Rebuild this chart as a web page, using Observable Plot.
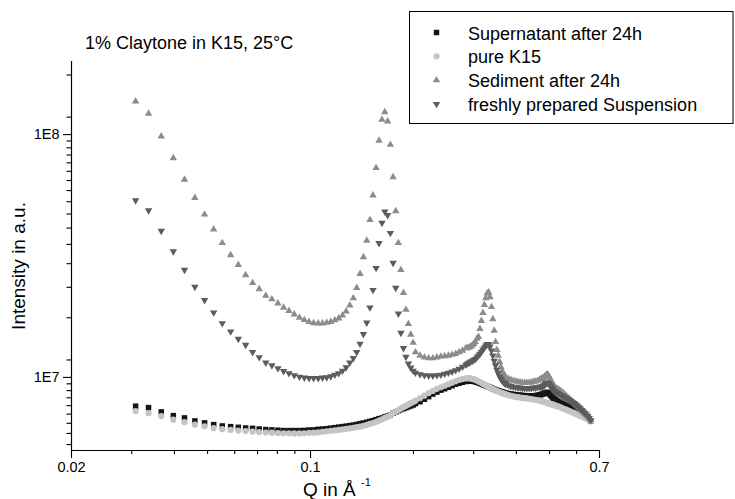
<!DOCTYPE html>
<html><head><meta charset="utf-8">
<script src="https://cdn.jsdelivr.net/npm/d3@7"></script>
<script src="https://cdn.jsdelivr.net/npm/@observablehq/plot@0.6"></script>
<style>html,body{margin:0;padding:0;background:#fff;}#chart{width:735px;height:499px;overflow:hidden;}</style>
</head><body><div id="chart"></div>
<script>
// Intensities are given in units of 1e6 a.u.
const UNIT = 1e6;
const q = [
0.0308,0.0336,0.0366,0.0397,0.0428,0.0459,0.0490,0.0521,0.0552,0.0584,0.0615,0.0646,0.0677,0.0708,0.0740,
0.0771,0.0803,0.0834,0.0865,0.0896,0.0928,0.0959,0.0990,0.1021,0.1053,0.1084,0.1115,0.1146,0.1178,0.1209,0.1240,0.1271,0.1303,0.1334,0.1365,0.1396,
0.1428,0.1460,0.1492,0.1523,0.1555,0.1586,0.1618,0.1649,0.1681,0.1712,0.1744,0.1775,0.1807,0.1838,0.1870,0.1901,0.1933,0.1964,0.1996,0.2027,
0.2090,0.2153,0.2216,0.2279,0.2342,0.2405,0.2468,0.2531,0.2594,0.2657,0.2720,0.2783,0.2846,
0.2878,0.2909,0.2941,0.2972,0.3004,0.3035,0.3067,0.3098,0.3130,0.3161,0.3193,0.3224,0.3256,0.3287,0.3319,0.3350,0.3382,0.3413,0.3445,0.3476,0.3508,0.3539,0.3571,0.3602,0.3634,0.3665,0.3697,0.3728,
0.3791,0.3854,0.3917,0.3980,0.4043,0.4106,0.4169,0.4232,0.4295,0.4358,0.4421,0.4484,0.4547,0.4610,0.4673,
0.4705,0.4736,0.4768,0.4799,0.4831,0.4862,0.4894,0.4925,0.4957,0.4988,0.5020,0.5051,0.5083,0.5114,0.5146,0.5177,0.5209,
0.5272,0.5335,0.5398,0.5461,0.5524,0.5587,0.5650,0.5713,0.5776,0.5839,0.5902,0.5965,0.6028,0.6091,0.6154,0.6217,0.6280,0.6343,0.6406,0.6469,0.6532,0.6595
];
const supernatant = [
7.61,7.51,7.21,6.96,6.81,6.62,6.50,6.39,6.31,6.27,6.23,6.19,6.17,6.13,6.10,
6.08,6.06,6.04,6.04,6.04,6.04,6.05,6.07,6.08,6.11,6.13,6.15,6.18,6.21,6.24,6.27,6.30,6.33,6.36,6.40,6.45,
6.49,6.54,6.59,6.64,6.70,6.76,6.81,6.88,6.94,7.01,7.12,7.21,7.29,7.37,7.44,7.50,7.57,7.63,7.70,7.80,
7.94,8.13,8.33,8.54,8.70,8.86,8.98,9.11,9.24,9.38,9.46,9.55,9.62,
9.64,9.66,9.67,9.66,9.63,9.60,9.55,9.51,9.45,9.40,9.35,9.29,9.24,9.19,9.14,9.09,9.04,8.98,8.93,8.89,8.85,8.81,8.77,8.74,8.71,8.67,8.64,8.62,
8.58,8.55,8.51,8.49,8.46,8.45,8.43,8.41,8.40,8.40,8.40,8.40,8.41,8.45,8.48,
8.49,8.51,8.54,8.56,8.60,8.63,8.66,8.68,8.64,8.58,8.49,8.41,8.33,8.25,8.19,8.13,8.08,
8.00,7.92,7.85,7.79,7.72,7.65,7.59,7.54,7.48,7.43,7.37,7.31,7.26,7.21,7.14,7.08,7.02,6.96,6.90,6.82,6.73,6.61
];
const pureK15 = [
7.27,7.12,6.93,6.70,6.54,6.39,6.29,6.19,6.12,6.08,6.04,6.01,5.98,5.96,5.93,
5.92,5.90,5.89,5.89,5.88,5.88,5.89,5.91,5.92,5.94,5.97,6.00,6.03,6.05,6.08,6.11,6.14,6.17,6.20,6.24,6.27,
6.32,6.37,6.43,6.49,6.56,6.64,6.72,6.81,6.90,7.00,7.13,7.23,7.34,7.44,7.55,7.64,7.74,7.83,7.92,8.02,
8.21,8.41,8.62,8.80,8.97,9.11,9.24,9.38,9.51,9.64,9.76,9.85,9.91,
9.93,9.93,9.91,9.87,9.83,9.77,9.71,9.64,9.57,9.50,9.42,9.35,9.28,9.21,9.14,9.07,9.01,8.95,8.89,8.84,8.80,8.75,8.70,8.66,8.62,8.58,8.55,8.51,
8.45,8.40,8.36,8.32,8.29,8.26,8.23,8.21,8.19,8.16,8.14,8.11,8.09,8.06,8.03,
8.01,7.99,7.96,7.94,7.92,7.90,7.87,7.85,7.83,7.80,7.78,7.76,7.74,7.72,7.70,7.67,7.65,
7.61,7.56,7.51,7.46,7.41,7.37,7.32,7.27,7.22,7.17,7.13,7.08,7.03,6.99,6.94,6.90,6.85,6.81,6.76,6.72,6.67,6.61
];
const sediment = [
137.0,122.0,98.4,80.0,65.3,54.9,46.9,40.7,35.8,31.9,29.1,26.4,24.5,23.1,21.7,
21.0,20.2,19.4,18.8,18.2,17.65,17.25,16.95,16.75,16.7,16.7,16.8,16.95,17.2,17.5,18.0,18.7,19.8,21.2,23.4,26.7,
31.3,36.6,44.5,56.2,72.9,94.5,115.2,123.9,113.4,90.9,66.8,48.4,35.8,27.7,22.3,19.0,16.6,15.0,13.9,12.7,
12.3,12.1,12.0,12.0,12.1,12.2,12.25,12.3,12.4,12.5,12.7,12.9,13.2,
13.2,13.3,13.4,13.55,13.75,14.0,14.45,14.7,15.85,17.1,18.45,19.9,21.2,22.2,22.4,21.4,19.5,17.4,15.6,14.0,13.0,12.3,11.6,11.05,10.65,10.35,10.16,10.0,
9.87,9.78,9.69,9.64,9.60,9.55,9.51,9.51,9.51,9.51,9.55,9.60,9.64,9.69,9.78,
9.83,9.87,9.92,9.97,10.06,10.16,10.25,10.3,10.2,10.06,9.87,9.69,9.51,9.38,9.24,9.15,9.07,
8.98,8.90,8.78,8.66,8.54,8.41,8.29,8.17,8.06,7.94,7.83,7.72,7.62,7.51,7.40,7.30,7.20,7.10,7.00,6.90,6.80,6.70
];
const fresh = [
53.6,48.7,40.1,33.0,27.7,23.6,20.8,18.5,16.7,15.45,14.4,13.6,12.7,12.1,11.5,
11.2,10.9,10.6,10.4,10.2,10.06,9.97,9.92,9.92,9.92,9.97,10.0,10.1,10.25,10.4,10.65,11.0,11.5,12.0,12.7,13.75,
15.07,16.8,19.4,22.9,28.2,35.7,43.3,48.2,46.6,39.3,29.6,23.35,18.3,15.25,13.2,12.15,11.4,10.97,10.65,10.45,
10.3,10.2,10.16,10.16,10.2,10.25,10.35,10.45,10.55,10.7,10.85,11.06,11.27,
11.4,11.5,11.6,11.7,11.8,11.9,12.1,12.3,12.5,12.75,13.0,13.25,13.5,13.7,13.7,13.4,12.9,12.3,11.7,11.2,10.75,10.4,10.1,9.87,9.69,9.55,9.46,9.38,
9.28,9.20,9.15,9.11,9.07,9.07,9.03,9.03,9.03,9.03,9.03,9.07,9.07,9.11,9.15,
9.15,9.15,9.20,9.24,9.28,9.38,9.46,9.51,9.46,9.38,9.24,9.11,8.98,8.90,8.82,8.74,8.70,
8.62,8.54,8.45,8.37,8.29,8.21,8.13,8.06,7.98,7.90,7.83,7.72,7.65,7.54,7.44,7.33,7.23,7.13,7.03,6.93,6.80,6.64
];
const seriesNames = ["Supernatant after 24h", "pure K15", "Sediment after 24h", "freshly prepared Suspension"];
const seriesColors = ["#151515", "#c4c4c4", "#8c8c8c", "#5c5c5c"];
const titleText = "1% Claytone in K15, 25°C";
const xTitle = "Q in Å";
const xTitleSup = "-1";
const yTitle = "Intensity in a.u.";
const xTicks = [0.02, 0.1, 0.7];
const xTickLabels = ["0.02", "0.1", "0.7"];
const xMinorTicks = [0.03, 0.04, 0.05, 0.06, 0.07, 0.08, 0.09, 0.2, 0.3, 0.4, 0.5, 0.6];
const yTicks = [1e7, 1e8];
const yTickLabels = ["1E7", "1E8"];
const yMinorTicks = [5.29e6, 5.88e6, 6.47e6, 7.06e6, 7.65e6, 8.24e6, 8.82e6, 9.41e6,
  1.18e7, 1.76e7, 2.35e7, 2.94e7, 3.53e7, 4.12e7, 4.71e7, 5.29e7, 5.88e7, 6.47e7, 7.06e7, 7.65e7, 8.24e7, 8.82e7, 9.41e7,
  1.18e8, 1.76e8];
const xDomain = [0.02, 0.7];
const yDomain = [5e6, 2e8];

const triangleDown = {
  draw(context, size) {
    const y = -Math.sqrt(size / (Math.sqrt(3) * 3));
    context.moveTo(0, -y * 2);
    context.lineTo(-Math.sqrt(3) * y, y);
    context.lineTo(Math.sqrt(3) * y, y);
    context.closePath();
  }
};
const seriesSymbols = ["square", "circle", "triangle", triangleDown];
const seriesR = [3.1, 3.1, 2.75, 2.75];
const seriesValues = [supernatant, pureK15, sediment, fresh];

const rows = seriesValues.map((vals, i) => q.map((qq, j) => ({q: qq, I: vals[j] * UNIT, s: seriesNames[i]})));
const xTickRows = xTicks.map((v, i) => ({v, label: xTickLabels[i]}));
const yTickRows = yTicks.map((v, i) => ({v, label: yTickLabels[i]}));

const svg = Plot.plot({
  width: 735, height: 499,
  marginLeft: 71, marginRight: 136, marginTop: 61, marginBottom: 49,
  style: {fontFamily: "'Liberation Sans', Arial, sans-serif", fontSize: "14.5px", background: "#fff", color: "#000", overflow: "visible"},
  x: {type: "log", domain: xDomain, axis: null},
  y: {type: "log", domain: yDomain, axis: null},
  marks: [
    ...rows.map((data, i) => Plot.dot(data, {x: "q", y: "I", symbol: seriesSymbols[i], r: seriesR[i], fill: seriesColors[i], stroke: "none"})),
    Plot.ruleX([xDomain[0]], {y1: yDomain[0], y2: yDomain[1], stroke: "#000", strokeWidth: 1.2}),
    Plot.ruleY([yDomain[0]], {x1: xDomain[0], x2: xDomain[1], stroke: "#000", strokeWidth: 1.2}),
    Plot.axisX(xMinorTicks, {tickSize: 4, text: null, label: null, strokeWidth: 1.1}),
    Plot.axisX(xTicks, {tickSize: 8, text: null, label: null, strokeWidth: 1.1}),
    Plot.text(xTickRows, {x: "v", frameAnchor: "bottom", dy: 21, text: "label", fontSize: 14.5, fill: "#000"}),
    Plot.axisY(yMinorTicks, {tickSize: 4.5, text: null, label: null, strokeWidth: 1.1}),
    Plot.axisY(yTicks, {tickSize: 8, text: null, label: null, strokeWidth: 1.1}),
    Plot.text(yTickRows, {y: "v", frameAnchor: "left", dx: -12, textAnchor: "end", text: "label", fontSize: 14.5, fill: "#000"})
  ]
});

const s = d3.select(svg);
const font = "'Liberation Sans', Arial, sans-serif";
s.append("text").attr("x", 85).attr("y", 49).attr("text-anchor", "start").attr("font-family", font).attr("font-size", 18).attr("fill", "#000").text(titleText);
// axis titles
s.append("text").attr("x", 303).attr("y", 496).attr("text-anchor", "start").attr("font-family", font).attr("font-size", 19).attr("fill", "#000").text(xTitle);
s.append("text").attr("x", 361).attr("y", 486).attr("text-anchor", "start").attr("font-family", font).attr("font-size", 11).attr("fill", "#000").text(xTitleSup);
s.append("text").attr("transform", "translate(25,266) rotate(-90)").attr("text-anchor", "middle")
  .attr("font-family", font).attr("font-size", 19).attr("fill", "#000").text(yTitle);
// legend
const lg = s.append("g");
lg.append("rect").attr("x", 409.5).attr("y", 11.5).attr("width", 323.5).attr("height", 112)
  .attr("fill", "#fff").attr("stroke", "#000").attr("stroke-width", 1);
seriesNames.forEach((name, i) => {
  const base = 39.5 + i * 23.85;
  const sym = seriesSymbols[i];
  const type = typeof sym === "string" ? {square: d3.symbolSquare, circle: d3.symbolCircle, triangle: d3.symbolTriangle}[sym] : sym;
  lg.append("path").attr("d", d3.symbol(type, seriesR[i] * seriesR[i] * Math.PI)())
    .attr("transform", `translate(436.5,${base - 7})`).attr("fill", seriesColors[i]);
  lg.append("text").attr("x", 468).attr("y", base).attr("text-anchor", "start").attr("font-family", font).attr("font-size", 18).attr("fill", "#000").text(name);
});

document.getElementById("chart").appendChild(svg);
</script>
</body></html>
